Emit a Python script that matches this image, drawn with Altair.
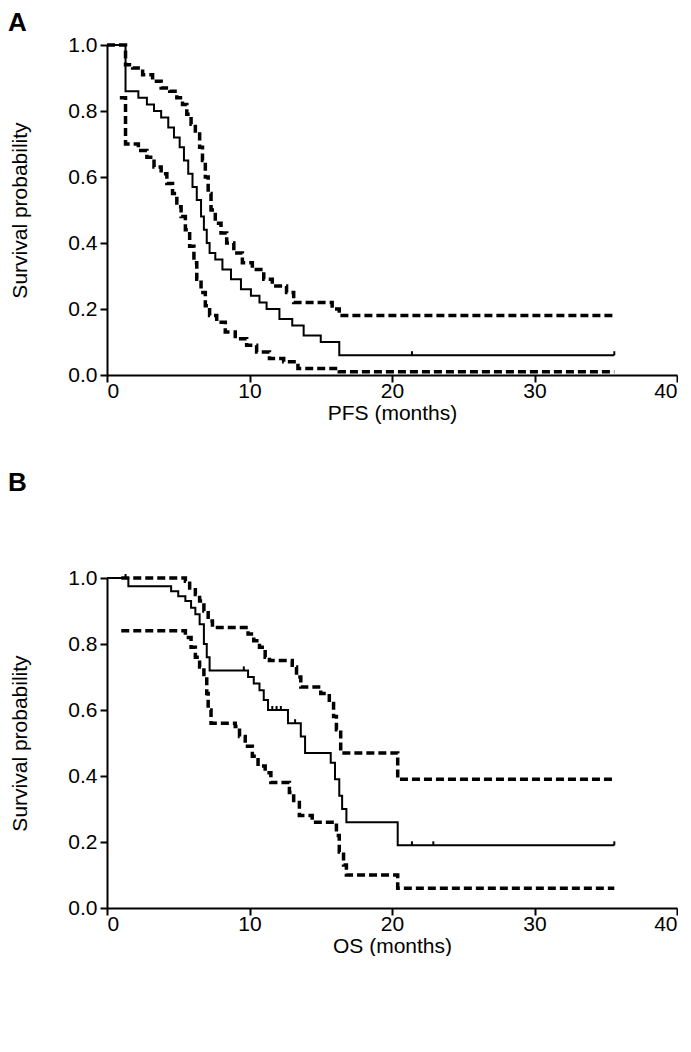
import altair as alt
import pandas as pd

# ---------------- Panel A (PFS) ----------------
a_est_t = [0, 1.3, 2.2, 2.8, 3.3, 3.8, 4.3, 4.7, 5.1, 5.4, 5.7, 6.0, 6.3, 6.6, 6.8, 7.0, 7.2, 7.6, 8.1, 8.7, 9.4, 10.1, 10.7, 11.2, 12.1, 13.0, 13.8, 15.0, 16.3, 35.6]
a_est_s = [1.0, 0.86, 0.84, 0.82, 0.80, 0.78, 0.75, 0.72, 0.69, 0.65, 0.61, 0.57, 0.53, 0.48, 0.44, 0.40, 0.37, 0.35, 0.32, 0.29, 0.26, 0.24, 0.22, 0.20, 0.17, 0.15, 0.12, 0.10, 0.06, 0.06]
a_up_t = [0, 1.3, 1.8, 2.5, 3.2, 3.8, 4.4, 4.9, 5.3, 5.6, 5.9, 6.2, 6.5, 6.7, 6.9, 7.1, 7.3, 7.6, 8.0, 8.4, 8.9, 9.5, 10.2, 11.0, 11.6, 12.6, 13.1, 15.8, 16.3, 35.6]
a_up_s = [1.0, 0.94, 0.93, 0.91, 0.89, 0.87, 0.86, 0.84, 0.82, 0.79, 0.76, 0.73, 0.69, 0.65, 0.60, 0.55, 0.50, 0.46, 0.43, 0.40, 0.37, 0.34, 0.32, 0.29, 0.27, 0.25, 0.22, 0.20, 0.18, 0.18]
a_lo_t = [0.9, 1.3, 2.2, 2.8, 3.3, 3.8, 4.2, 4.6, 4.9, 5.2, 5.5, 5.8, 6.1, 6.3, 6.6, 6.9, 7.2, 7.7, 8.3, 9.0, 9.8, 10.5, 11.4, 12.4, 13.4, 16.3, 35.6]
a_lo_s = [0.84, 0.70, 0.68, 0.66, 0.63, 0.61, 0.58, 0.55, 0.51, 0.48, 0.44, 0.39, 0.34, 0.29, 0.25, 0.21, 0.18, 0.16, 0.13, 0.11, 0.09, 0.07, 0.05, 0.04, 0.02, 0.01, 0.01]
a_cens_t = [21.4, 35.6]
a_cens_s = [0.06, 0.06]

# ---------------- Panel B (OS) ----------------
b_est_t = [0, 1.5, 4.5, 5.0, 5.5, 5.9, 6.2, 6.5, 6.8, 7.0, 7.2, 9.9, 10.3, 10.7, 11.0, 11.3, 12.7, 13.6, 13.9, 15.7, 16.0, 16.3, 16.5, 16.8, 20.4, 35.6]
b_est_s = [1.0, 0.975, 0.96, 0.945, 0.93, 0.91, 0.89, 0.86, 0.80, 0.76, 0.72, 0.70, 0.68, 0.66, 0.63, 0.60, 0.56, 0.52, 0.47, 0.44, 0.39, 0.34, 0.30, 0.26, 0.19, 0.19]
b_up_t = [1.0, 5.5, 5.8, 6.2, 6.5, 6.8, 7.1, 7.4, 9.9, 10.3, 10.7, 11.1, 11.4, 13.0, 13.3, 13.6, 15.0, 15.6, 15.9, 16.1, 16.4, 20.4, 35.6]
b_up_s = [1.0, 0.99, 0.97, 0.95, 0.93, 0.90, 0.87, 0.85, 0.83, 0.81, 0.79, 0.76, 0.75, 0.73, 0.70, 0.67, 0.65, 0.62, 0.58, 0.54, 0.47, 0.39, 0.39]
b_lo_t = [1.0, 5.5, 5.9, 6.2, 6.5, 6.8, 7.0, 7.1, 7.3, 9.0, 9.3, 9.7, 10.2, 10.6, 11.1, 11.5, 12.8, 13.1, 13.5, 14.4, 16.1, 16.3, 16.6, 16.8, 20.4, 35.6]
b_lo_s = [0.84, 0.82, 0.79, 0.76, 0.73, 0.70, 0.65, 0.60, 0.56, 0.55, 0.52, 0.49, 0.46, 0.43, 0.41, 0.38, 0.35, 0.32, 0.28, 0.26, 0.22, 0.17, 0.13, 0.10, 0.06, 0.06]
b_cens_t = [1.3, 9.6, 11.6, 11.9, 12.2, 13.2, 21.4, 22.9, 35.6]
b_cens_s = [1.0, 0.72, 0.60, 0.60, 0.60, 0.56, 0.19, 0.19, 0.19]

x_ticks = [0, 10, 20, 30, 40]
y_ticks = [0.0, 0.2, 0.4, 0.6, 0.8, 1.0]

FONT = "Liberation Sans"


def frame(t, s, name):
    return pd.DataFrame({"t": t, "s": s, "series": name})


def panel(est_t, est_s, up_t, up_s, lo_t, lo_s, cens_t, cens_s, xtitle, label, title_offset):
    est = frame(est_t, est_s, "estimate")
    band = pd.concat([frame(up_t, up_s, "upper"), frame(lo_t, lo_s, "lower")])
    cens = frame(cens_t, cens_s, "censor")
    x = alt.X("t:Q", scale=alt.Scale(domain=[0, 40], nice=False),
              axis=alt.Axis(values=x_ticks, title=xtitle, format="d"))
    y = alt.Y("s:Q", scale=alt.Scale(domain=[0, 1], nice=False),
              axis=alt.Axis(values=y_ticks, title="Survival probability", format=".1f"))
    dashed = alt.Chart(band).mark_line(
        interpolate="step-after", color="black", strokeWidth=3.5, strokeDash=[8, 4]
    ).encode(x=x, y=y, detail="series:N")
    solid = alt.Chart(est).mark_line(
        interpolate="step-after", color="black", strokeWidth=2
    ).encode(x=x, y=y)
    ticks = alt.Chart(cens).mark_point(
        shape="M0,0L0,-1", filled=False, stroke="black", strokeWidth=2, size=64, opacity=1
    ).encode(x=x, y=y)
    return alt.layer(dashed, solid, ticks).properties(
        width=570, height=330,
        title=alt.TitleParams(label, anchor="start", frame="group", fontSize=26,
                              fontWeight="bold", font=FONT, color="black",
                              dx=-99, offset=title_offset),
    )


pa = panel(a_est_t, a_est_s, a_up_t, a_up_s, a_lo_t, a_lo_s, a_cens_t, a_cens_s,
           "PFS (months)", "A", -2)
pb = panel(b_est_t, b_est_s, b_up_t, b_up_s, b_lo_t, b_lo_s, b_cens_t, b_cens_s,
           "OS (months)", "B", 71)

chart = alt.vconcat(pa, pb, spacing=47).properties(
    padding={"left": 0, "top": 2, "right": 0, "bottom": 0}
).configure_view(
    stroke=None
).configure_axis(
    domainColor="black", domainWidth=2, tickColor="black", tickWidth=2, tickSize=7,
    labelFont=FONT, labelFontSize=21, labelColor="black",
    titleFont=FONT, titleFontSize=21, titleFontWeight="normal", titleColor="black",
    grid=False, labelPadding=3,
).configure_axisY(titlePadding=37).configure_axisX(titlePadding=1, labelPadding=-2)

chart.save("out.html", embed_options={"renderer": "svg", "actions": False})
